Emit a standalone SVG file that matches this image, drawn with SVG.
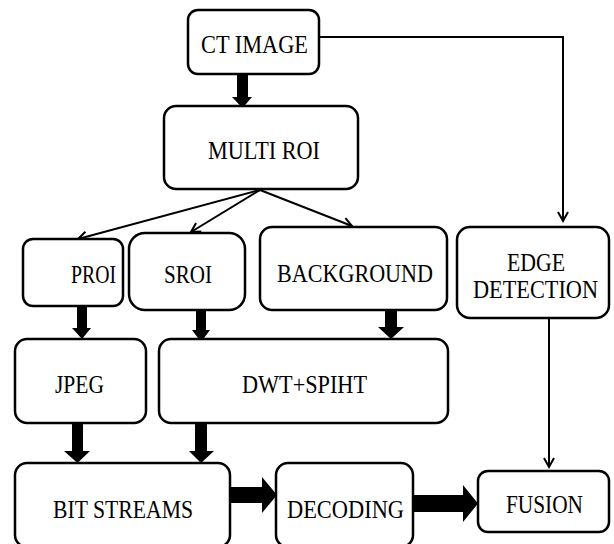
<svg xmlns="http://www.w3.org/2000/svg" width="614" height="544" viewBox="0 0 614 544">
<defs>
<style>
.box{fill:#fff;stroke:#000;stroke-width:2.5}
.t{font-family:"Liberation Serif","Times New Roman",serif;font-size:25px;fill:#000}
.ln{fill:none;stroke:#000;stroke-width:2}
.fat{fill:#000;stroke:none}
</style>
<marker id="open" markerWidth="14" markerHeight="14" refX="10" refY="6" orient="auto" markerUnits="userSpaceOnUse">
<path d="M1,1 L10,6 L1,11" fill="none" stroke="#000" stroke-width="2"/>
</marker>
</defs>
<g id="connectors">
<polyline class="ln" points="319,37 563,37 563,221" marker-end="url(#open)"/>
<line class="ln" x1="549" y1="318" x2="549" y2="467" marker-end="url(#open)"/>
<line class="ln" x1="260" y1="190" x2="78" y2="239" marker-end="url(#open)"/>
<line class="ln" x1="260" y1="190" x2="191" y2="232" marker-end="url(#open)"/>
<line class="ln" x1="260" y1="190" x2="352" y2="226" marker-end="url(#open)"/>
<polygon class="fat" points="237,74 248,74 248,97 252,97 242.5,108 232,97 237,97"/>
<polygon class="fat" points="77,306 87,306 87,328 91,328 82,339 72,328 77,328"/>
<polygon class="fat" points="196,310 206,310 206,330 210,330 201,342 192,330 196,330"/>
<polygon class="fat" points="385,308 397,308 397,327 404,327 391,339 378,327 385,327"/>
<polygon class="fat" points="72,423 83,423 83,451 90,451 77.5,463 64,451 72,451"/>
<polygon class="fat" points="195,423 207,423 207,451 214,451 201,463 189,451 195,451"/>
<polygon class="fat" points="230,487 262,487 262,477 277,495 262,513 262,503 230,503"/>
<polygon class="fat" points="413,495 463,495 463,485 478,503.5 463,522 463,512 413,512"/>
</g>
<g id="ct"><rect class="box" x="188" y="10" width="131" height="64" rx="10"/><text class="t" x="201" y="53" textLength="107" lengthAdjust="spacingAndGlyphs">CT IMAGE</text></g>
<g id="multi"><rect class="box" x="164" y="106" width="194" height="83" rx="12"/><text class="t" x="208" y="159" textLength="112" lengthAdjust="spacingAndGlyphs">MULTI ROI</text></g>
<g id="proi"><rect class="box" x="23" y="239" width="100" height="67" rx="10"/><text class="t" x="71" y="283" textLength="45" lengthAdjust="spacingAndGlyphs">PROI</text></g>
<g id="sroi"><rect class="box" x="129" y="233" width="116" height="77" rx="16"/><text class="t" x="164" y="283" textLength="48" lengthAdjust="spacingAndGlyphs">SROI</text></g>
<g id="background"><rect class="box" x="260" y="227" width="187" height="83" rx="12"/><text class="t" x="277" y="282" textLength="156" lengthAdjust="spacingAndGlyphs">BACKGROUND</text></g>
<g id="edge"><rect class="box" x="457" y="227" width="152" height="91" rx="13"/><text class="t" x="507" y="271" textLength="58" lengthAdjust="spacingAndGlyphs">EDGE</text><text class="t" x="473" y="298" textLength="125" lengthAdjust="spacingAndGlyphs">DETECTION</text></g>
<g id="jpeg"><rect class="box" x="15" y="339" width="131" height="84" rx="12"/><text class="t" x="55" y="393" textLength="49" lengthAdjust="spacingAndGlyphs">JPEG</text></g>
<g id="dwt"><rect class="box" x="159" y="339" width="289" height="84" rx="12"/><text class="t" x="242" y="393" textLength="125" lengthAdjust="spacingAndGlyphs">DWT+SPIHT</text></g>
<g id="bit"><rect class="box" x="15" y="463" width="215" height="84" rx="12"/><text class="t" x="53" y="518" textLength="140" lengthAdjust="spacingAndGlyphs">BIT STREAMS</text></g>
<g id="decoding"><rect class="box" x="276" y="463" width="137" height="84" rx="12"/><text class="t" x="287" y="518" textLength="117" lengthAdjust="spacingAndGlyphs">DECODING</text></g>
<g id="fusion"><rect class="box" x="478" y="471" width="131" height="61" rx="10"/><text class="t" x="506" y="513" textLength="77" lengthAdjust="spacingAndGlyphs">FUSION</text></g>
</svg>
